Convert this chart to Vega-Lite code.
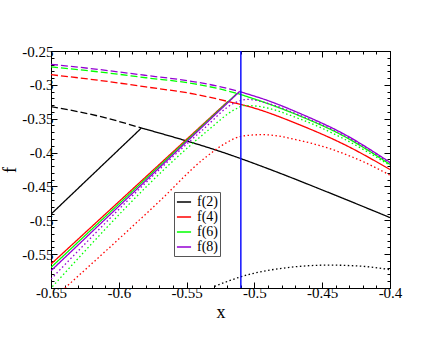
{
  "$schema": "https://vega.github.io/schema/vega-lite/v6.json",
  "autosize": {"type": "none"},
  "padding": {"left": 51, "top": 51, "right": 50, "bottom": 52},
  "width": 339,
  "height": 237,
  "config": {"view": {"stroke": "black", "strokeWidth": 1}, "font": "Liberation Serif"},
  "datasets": {
    "curves": [
      {"s": "f(2)", "style": "up", "x": -0.65, "y": -0.491},
      {"s": "f(2)", "style": "up", "x": -0.5833, "y": -0.3637},
      {"s": "f(2)", "style": "down", "x": -0.5833, "y": -0.3637},
      {"s": "f(2)", "style": "down", "x": -0.5184, "y": -0.403},
      {"s": "f(2)", "style": "down", "x": -0.489, "y": -0.4245},
      {"s": "f(2)", "style": "down", "x": -0.4449, "y": -0.4593},
      {"s": "f(2)", "style": "down", "x": -0.4, "y": -0.496},
      {"s": "f(2)", "style": "dashed", "x": -0.65, "y": -0.332},
      {"s": "f(2)", "style": "dashed", "x": -0.614, "y": -0.3466},
      {"s": "f(2)", "style": "dashed", "x": -0.5833, "y": -0.3637},
      {"s": "f(2)", "style": "dotted", "x": -0.5294, "y": -0.5976},
      {"s": "f(2)", "style": "dotted", "x": -0.5098, "y": -0.5833},
      {"s": "f(2)", "style": "dotted", "x": -0.4743, "y": -0.5696},
      {"s": "f(2)", "style": "dotted", "x": -0.4449, "y": -0.5662},
      {"s": "f(2)", "style": "dotted", "x": -0.42, "y": -0.568},
      {"s": "f(2)", "style": "dotted", "x": -0.4, "y": -0.573},

      {"s": "f(4)", "style": "up", "x": -0.65, "y": -0.5647},
      {"s": "f(4)", "style": "up", "x": -0.5196, "y": -0.3245},
      {"s": "f(4)", "style": "down", "x": -0.5196, "y": -0.3245},
      {"s": "f(4)", "style": "down", "x": -0.5015, "y": -0.3335},
      {"s": "f(4)", "style": "down", "x": -0.4669, "y": -0.3588},
      {"s": "f(4)", "style": "down", "x": -0.4338, "y": -0.388},
      {"s": "f(4)", "style": "down", "x": -0.4, "y": -0.425},
      {"s": "f(4)", "style": "dashed", "x": -0.65, "y": -0.285},
      {"s": "f(4)", "style": "dashed", "x": -0.614, "y": -0.2935},
      {"s": "f(4)", "style": "dashed", "x": -0.58, "y": -0.303},
      {"s": "f(4)", "style": "dashed", "x": -0.5441, "y": -0.3137},
      {"s": "f(4)", "style": "dashed", "x": -0.5196, "y": -0.3245},
      {"s": "f(4)", "style": "dotted", "x": -0.6397, "y": -0.6},
      {"s": "f(4)", "style": "dotted", "x": -0.5686, "y": -0.4691},
      {"s": "f(4)", "style": "dotted", "x": -0.538, "y": -0.4103},
      {"s": "f(4)", "style": "dotted", "x": -0.5208, "y": -0.3857},
      {"s": "f(4)", "style": "dotted", "x": -0.5098, "y": -0.376},
      {"s": "f(4)", "style": "dotted", "x": -0.4939, "y": -0.3735},
      {"s": "f(4)", "style": "dotted", "x": -0.4669, "y": -0.382},
      {"s": "f(4)", "style": "dotted", "x": -0.4424, "y": -0.3956},
      {"s": "f(4)", "style": "dotted", "x": -0.4179, "y": -0.4152},
      {"s": "f(4)", "style": "dotted", "x": -0.4, "y": -0.4334},

      {"s": "f(6)", "style": "up", "x": -0.65, "y": -0.5696},
      {"s": "f(6)", "style": "up", "x": -0.5128, "y": -0.3125},
      {"s": "f(6)", "style": "down", "x": -0.5128, "y": -0.3125},
      {"s": "f(6)", "style": "down", "x": -0.489, "y": -0.3285},
      {"s": "f(6)", "style": "down", "x": -0.4669, "y": -0.3456},
      {"s": "f(6)", "style": "down", "x": -0.4338, "y": -0.376},
      {"s": "f(6)", "style": "down", "x": -0.4, "y": -0.4175},
      {"s": "f(6)", "style": "dashed", "x": -0.65, "y": -0.2735},
      {"s": "f(6)", "style": "dashed", "x": -0.614, "y": -0.281},
      {"s": "f(6)", "style": "dashed", "x": -0.58, "y": -0.2895},
      {"s": "f(6)", "style": "dashed", "x": -0.5441, "y": -0.2985},
      {"s": "f(6)", "style": "dashed", "x": -0.5257, "y": -0.306},
      {"s": "f(6)", "style": "dashed", "x": -0.5128, "y": -0.3125},
      {"s": "f(6)", "style": "dotted", "x": -0.649, "y": -0.598},
      {"s": "f(6)", "style": "dotted", "x": -0.5336, "y": -0.3662},
      {"s": "f(6)", "style": "dotted", "x": -0.515, "y": -0.337},
      {"s": "f(6)", "style": "dotted", "x": -0.507, "y": -0.3305},
      {"s": "f(6)", "style": "dotted", "x": -0.498, "y": -0.3315},
      {"s": "f(6)", "style": "dotted", "x": -0.4669, "y": -0.350},
      {"s": "f(6)", "style": "dotted", "x": -0.4338, "y": -0.380},
      {"s": "f(6)", "style": "dotted", "x": -0.4, "y": -0.419},

      {"s": "f(8)", "style": "up", "x": -0.65, "y": -0.5745},
      {"s": "f(8)", "style": "up", "x": -0.511, "y": -0.3099},
      {"s": "f(8)", "style": "down", "x": -0.511, "y": -0.3099},
      {"s": "f(8)", "style": "down", "x": -0.489, "y": -0.324},
      {"s": "f(8)", "style": "down", "x": -0.4669, "y": -0.3418},
      {"s": "f(8)", "style": "down", "x": -0.4338, "y": -0.3728},
      {"s": "f(8)", "style": "down", "x": -0.4, "y": -0.4145},
      {"s": "f(8)", "style": "dashed", "x": -0.65, "y": -0.2696},
      {"s": "f(8)", "style": "dashed", "x": -0.614, "y": -0.2775},
      {"s": "f(8)", "style": "dashed", "x": -0.58, "y": -0.286},
      {"s": "f(8)", "style": "dashed", "x": -0.5441, "y": -0.2955},
      {"s": "f(8)", "style": "dashed", "x": -0.5257, "y": -0.3025},
      {"s": "f(8)", "style": "dashed", "x": -0.511, "y": -0.3099},
      {"s": "f(8)", "style": "dotted", "x": -0.65, "y": -0.5868},
      {"s": "f(8)", "style": "dotted", "x": -0.538, "y": -0.3662},
      {"s": "f(8)", "style": "dotted", "x": -0.515, "y": -0.327},
      {"s": "f(8)", "style": "dotted", "x": -0.505, "y": -0.3215},
      {"s": "f(8)", "style": "dotted", "x": -0.489, "y": -0.328},
      {"s": "f(8)", "style": "dotted", "x": -0.4669, "y": -0.3445},
      {"s": "f(8)", "style": "dotted", "x": -0.4338, "y": -0.3748},
      {"s": "f(8)", "style": "dotted", "x": -0.4, "y": -0.4158}
    ],
    "marker": [{"x": -0.51}]
  },
  "resolve": {"axis": {"x": "independent", "y": "independent"}},
  "layer": [
    {
      "data": {"name": "curves"},
      "mark": {"type": "line", "strokeWidth": 1.3, "interpolate": "monotone", "clip": true},
      "encoding": {
        "x": {"field": "x", "type": "quantitative",
          "scale": {"domain": [-0.65, -0.4], "nice": false, "zero": false},
          "axis": {"orient": "bottom", "title": "x", "grid": false,
            "values": [-0.65,-0.64,-0.63,-0.62,-0.61,-0.6,-0.59,-0.58,-0.57,-0.56,-0.55,-0.54,-0.53,-0.52,-0.51,-0.5,-0.49,-0.48,-0.47,-0.46,-0.45,-0.44,-0.43,-0.42,-0.41,-0.4],
            "labelExpr": "abs(round(datum.value*100)) % 5 == 0 ? '' + datum.value : ''",
            "tickSize": {"condition": {"test": "abs(round(datum.value*100)) % 5 == 0", "value": -6}, "value": -3},
            "tickColor": "black", "domainColor": "black", "labelColor": "black",
            "labelFont": "Liberation Serif", "labelFontSize": 15, "labelPadding": 3,
            "labelFlush": false, "labelOverlap": false,
            "titleFont": "Liberation Serif", "titleFontSize": 18, "titleFontWeight": "normal", "titleColor": "black", "titlePadding": 0}},
        "y": {"field": "y", "type": "quantitative",
          "scale": {"domain": [-0.6, -0.25], "nice": false, "zero": false},
          "axis": {"orient": "left", "title": "f", "grid": false,
            "values": [-0.6,-0.59,-0.58,-0.57,-0.56,-0.55,-0.54,-0.53,-0.52,-0.51,-0.5,-0.49,-0.48,-0.47,-0.46,-0.45,-0.44,-0.43,-0.42,-0.41,-0.4,-0.39,-0.38,-0.37,-0.36,-0.35,-0.34,-0.33,-0.32,-0.31,-0.3,-0.29,-0.28,-0.27,-0.26,-0.25],
            "labelExpr": "abs(round(datum.value*100)) % 5 == 0 && datum.value > -0.599 ? '' + datum.value : ''",
            "tickSize": {"condition": {"test": "abs(round(datum.value*100)) % 5 == 0", "value": -6}, "value": -3},
            "tickColor": "black", "domainColor": "black", "labelColor": "black",
            "labelFont": "Liberation Serif", "labelFontSize": 15, "labelPadding": 4,
            "labelFlush": false, "labelOverlap": false,
            "titleFont": "Liberation Serif", "titleFontSize": 18, "titleFontWeight": "normal", "titleColor": "black", "titlePadding": 2}},
        "color": {"field": "s", "type": "nominal",
          "scale": {"domain": ["f(2)", "f(4)", "f(6)", "f(8)"], "range": ["#000000", "#ff0000", "#00ff00", "#9400d3"]},
          "legend": {"orient": "none", "legendX": 123, "legendY": 141, "title": null,
            "strokeColor": "#555555", "fillColor": "white", "padding": 2,
            "symbolType": "stroke", "symbolSize": 200, "symbolStrokeWidth": 1.5,
            "labelFont": "Liberation Serif", "labelFontSize": 14, "labelColor": "black",
            "labelOffset": 5, "rowPadding": 0}},
        "strokeDash": {"field": "style", "type": "nominal",
          "scale": {"domain": ["up", "down", "dashed", "dotted"], "range": [[1, 0], [1, 0], [7, 3], [1.5, 2.5]]},
          "legend": null}
      }
    },
    {
      "data": {"name": "curves"},
      "mark": {"type": "point", "opacity": 0},
      "encoding": {
        "x": {"field": "x", "type": "quantitative",
          "axis": {"orient": "top", "title": null, "labels": false, "grid": false,
            "values": [-0.65,-0.64,-0.63,-0.62,-0.61,-0.6,-0.59,-0.58,-0.57,-0.56,-0.55,-0.54,-0.53,-0.52,-0.51,-0.5,-0.49,-0.48,-0.47,-0.46,-0.45,-0.44,-0.43,-0.42,-0.41,-0.4],
            "tickSize": {"condition": {"test": "abs(round(datum.value*100)) % 5 == 0", "value": -6}, "value": -3},
            "tickColor": "black", "domainColor": "black"}},
        "y": {"field": "y", "type": "quantitative",
          "axis": {"orient": "right", "title": null, "labels": false, "grid": false,
            "values": [-0.6,-0.59,-0.58,-0.57,-0.56,-0.55,-0.54,-0.53,-0.52,-0.51,-0.5,-0.49,-0.48,-0.47,-0.46,-0.45,-0.44,-0.43,-0.42,-0.41,-0.4,-0.39,-0.38,-0.37,-0.36,-0.35,-0.34,-0.33,-0.32,-0.31,-0.3,-0.29,-0.28,-0.27,-0.26,-0.25],
            "tickSize": {"condition": {"test": "abs(round(datum.value*100)) % 5 == 0", "value": -6}, "value": -3},
            "tickColor": "black", "domainColor": "black"}}
      }
    },
    {
      "data": {"name": "marker"},
      "mark": {"type": "rule", "color": "#1010ff", "strokeWidth": 1.5},
      "encoding": {
        "x": {"field": "x", "type": "quantitative", "axis": null}
      }
    }
  ]
}
